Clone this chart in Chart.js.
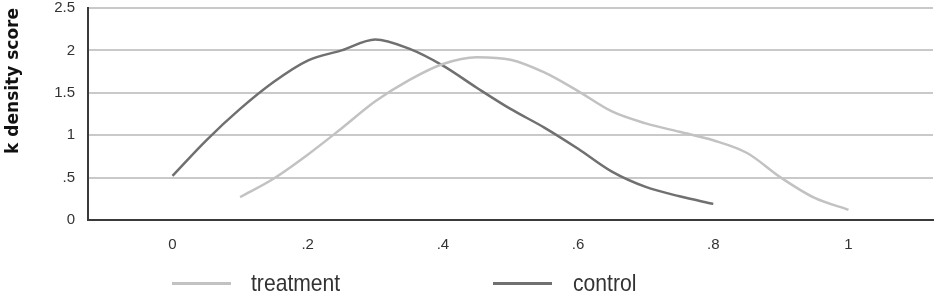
<!DOCTYPE html>
<html>
<head>
<meta charset="utf-8">
<script src="https://cdn.jsdelivr.net/npm/chart.js@4.4.1/dist/chart.umd.min.js"></script>
<style>
  html, body { margin: 0; padding: 0; background: #fff; }
  #wrap { position: relative; width: 941px; height: 297px; }
  #legend { position: absolute; left: 0; top: 268px; width: 941px; height: 29px; font-family: "Liberation Sans", sans-serif; font-size: 24px; color: #333; }
  .item { position: absolute; top: 0; line-height: 29px; transform: scaleX(0.88); transform-origin: left center; }
  .swatch { position: absolute; top: 14px; height: 3px; width: 59px; }
</style>
</head>
<body>
<div id="wrap">
  <canvas id="chart" width="941" height="297"></canvas>
  <div id="legend">
    <div class="swatch" style="left:172px;background:#c2c2c2"></div>
    <div class="item" style="left:251px">treatment</div>
    <div class="swatch" style="left:493px;background:#707070"></div>
    <div class="item" style="left:573px">control</div>
  </div>
</div>
<script>
// kernel density estimates
const treatmentX = [0.1, 0.15, 0.2, 0.25, 0.3, 0.35, 0.4, 0.45, 0.5, 0.55, 0.6, 0.65, 0.7, 0.75, 0.8, 0.85, 0.9, 0.95, 1.0];
const treatmentY = [0.27, 0.49, 0.77, 1.08, 1.40, 1.65, 1.84, 1.92, 1.89, 1.74, 1.52, 1.28, 1.14, 1.04, 0.94, 0.79, 0.50, 0.26, 0.12];
const controlX = [0, 0.05, 0.1, 0.15, 0.2, 0.25, 0.3, 0.35, 0.4, 0.45, 0.5, 0.55, 0.6, 0.65, 0.7, 0.75, 0.8];
const controlY = [0.52, 0.94, 1.31, 1.63, 1.88, 2.0, 2.13, 2.02, 1.82, 1.56, 1.31, 1.09, 0.84, 0.57, 0.39, 0.28, 0.19];

const xTicks = [0, 0.2, 0.4, 0.6, 0.8, 1];
const xTickLabels = ['0', '.2', '.4', '.6', '.8', '1'];
const yTicks = [0, 0.5, 1, 1.5, 2, 2.5];
const yTickLabels = ['0', '.5', '1', '1.5', '2', '2.5'];

function pts(xs, ys) { return xs.map((x, i) => ({ x: x, y: ys[i] })); }

const tickFont = { family: '"Liberation Sans", sans-serif', size: 15 };

new Chart(document.getElementById('chart'), {
  type: 'line',
  data: {
    datasets: [
      { label: 'treatment', data: pts(treatmentX, treatmentY), borderColor: '#c2c2c2', borderWidth: 2.5, pointRadius: 0, cubicInterpolationMode: 'monotone' },
      { label: 'control', data: pts(controlX, controlY), borderColor: '#707070', borderWidth: 2.5, pointRadius: 0, cubicInterpolationMode: 'monotone' }
    ]
  },
  options: {
    responsive: false,
    animation: false,
    layout: { padding: { top: 8, right: 8, bottom: 47, left: 0 } },
    plugins: { legend: { display: false }, tooltip: { enabled: false } },
    scales: {
      x: {
        type: 'linear', min: -0.125, max: 1.125,
        grid: { display: false, drawTicks: false },
        border: { display: true, color: '#3a3a3a', width: 2 },
        afterBuildTicks: s => { s.ticks = xTicks.map(v => ({ value: v })); },
        afterFit: s => { s.height = 30; s.paddingLeft = 0; s.paddingRight = 0; },
        ticks: { color: '#333', font: tickFont, padding: 16, maxRotation: 0, callback: (v) => xTickLabels[xTicks.indexOf(v)] }
      },
      y: {
        min: 0, max: 2.5,
        grid: { color: '#c9c9c9', lineWidth: 2, drawTicks: false },
        border: { display: true, color: '#3a3a3a', width: 2 },
        afterBuildTicks: s => { s.ticks = yTicks.map(v => ({ value: v })); },
        afterFit: s => { s.width = 88; s.paddingTop = 0; s.paddingBottom = 0; },
        ticks: { color: '#333', font: tickFont, padding: 13, callback: (v) => yTickLabels[yTicks.indexOf(v)] },
        title: { display: true, text: 'k density score', align: 'end', color: '#111', padding: { top: 3, bottom: 0 }, font: { family: '"DejaVu Sans", sans-serif', weight: 'bold', size: 17 } }
      }
    }
  }
});
</script>
</body>
</html>
